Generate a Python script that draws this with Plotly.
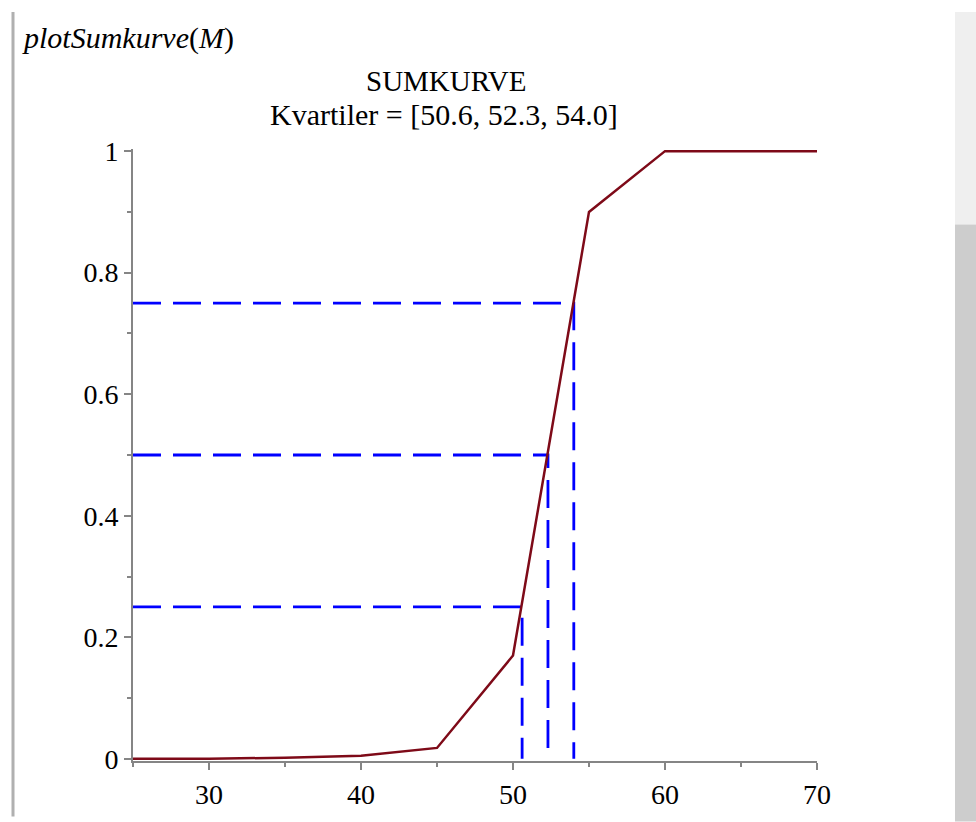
import plotly.graph_objects as go

# ---- data ----
klasser = [25, 30, 35, 40, 45, 50, 55, 60, 65, 70]
kumulativ = [0.0, 0.0, 0.002, 0.005, 0.018, 0.17, 0.90, 1.0, 1.0, 1.0]
kvartil_p = [0.25, 0.50, 0.75]
kvartiler = [50.6, 52.3, 54.0]
x_ticks = [30, 40, 50, 60, 70]
y_ticks = [0, 0.2, 0.4, 0.6, 0.8, 1.0]
y_ticklabels = ["0", "0.2", "0.4", "0.6", "0.8", "1"]

W, H = 976, 822
ML, MR, MT, MB = 133, 159, 149, 56
PW, PH = W - ML - MR, H - MT - MB


def pxx(px):
    return (px - ML) / PW


def pxy(py):
    return (H - MB - py) / PH


SERIF = "Liberation Serif, Times New Roman, serif"
CURVE = "#7E0A18"
BLUE = "#0000FF"
AXIS = "#858585"

fig = go.Figure()

for q, p in zip(kvartiler, kvartil_p):
    fig.add_trace(go.Scatter(
        x=[klasser[0], q, q], y=[p, p, 0], mode="lines",
        line=dict(color=BLUE, width=2.8, dash="28px,12px"),
        hoverinfo="skip", showlegend=False))

fig.add_trace(go.Scatter(
    x=klasser, y=kumulativ, mode="lines",
    line=dict(color=CURVE, width=2.5),
    showlegend=False))

axis_common = dict(
    showgrid=False, zeroline=False, showline=True, linecolor=AXIS, linewidth=2,
    ticks="outside", ticklen=7, tickwidth=1.5, tickcolor=AXIS,
    tickfont=dict(family=SERIF, size=28, color="black"),
    layer="below traces",
)

fig.update_xaxes(range=[25, 70], tickvals=x_ticks,
                 minor=dict(dtick=5, tick0=25, ticks="outside", ticklen=4,
                            tickwidth=1.5, tickcolor=AXIS, showgrid=False),
                 **axis_common)
fig.update_yaxes(range=[-0.0035, 1.0035], tickvals=y_ticks, ticktext=y_ticklabels,
                 ticklabelstandoff=0,
                 minor=dict(dtick=0.1, tick0=0, ticks="outside", ticklen=4,
                            tickwidth=1.5, tickcolor=AXIS, showgrid=False),
                 **axis_common)

annotations = [
    dict(text="<i>plotSumkurve</i>(<i>M</i>)", x=pxx(20), y=pxy(37),
         xanchor="left", yanchor="middle",
         font=dict(family=SERIF, size=30, color="black")),
    dict(text="SUMKURVE", x=pxx(446), y=pxy(80),
         xanchor="center", yanchor="middle",
         font=dict(family=SERIF, size=29, color="black")),
    dict(text="Kvartiler = [50.6, 52.3, 54.0]", x=pxx(444), y=pxy(114.5),
         xanchor="center", yanchor="middle",
         font=dict(family=SERIF, size=30, color="black")),
]
for a in annotations:
    a.update(xref="paper", yref="paper", showarrow=False)

shapes = [
    dict(type="line", x0=pxx(13), x1=pxx(13), y0=pxy(11), y1=pxy(H),
         line=dict(color="#b0b0b0", width=3)),
    dict(type="rect", x0=pxx(955), x1=pxx(W + 5), y0=pxy(11), y1=pxy(225),
         fillcolor="#efefef", line=dict(width=0)),
    dict(type="rect", x0=pxx(955), x1=pxx(W + 5), y0=pxy(225), y1=pxy(H + 5),
         fillcolor="#cdcdcd", line=dict(width=0)),
]
for s in shapes:
    s.update(xref="paper", yref="paper", layer="below")

fig.update_layout(
    width=W, height=H,
    margin=dict(l=ML, r=MR, t=MT, b=MB, pad=0),
    paper_bgcolor="white", plot_bgcolor="white",
    annotations=annotations, shapes=shapes,
    font=dict(family=SERIF, color="black"),
)

fig.write_html(
    "out.html",
    config={"displayModeBar": False},
    post_script="document.body.style.margin='0';document.body.style.overflow='hidden';",
)
